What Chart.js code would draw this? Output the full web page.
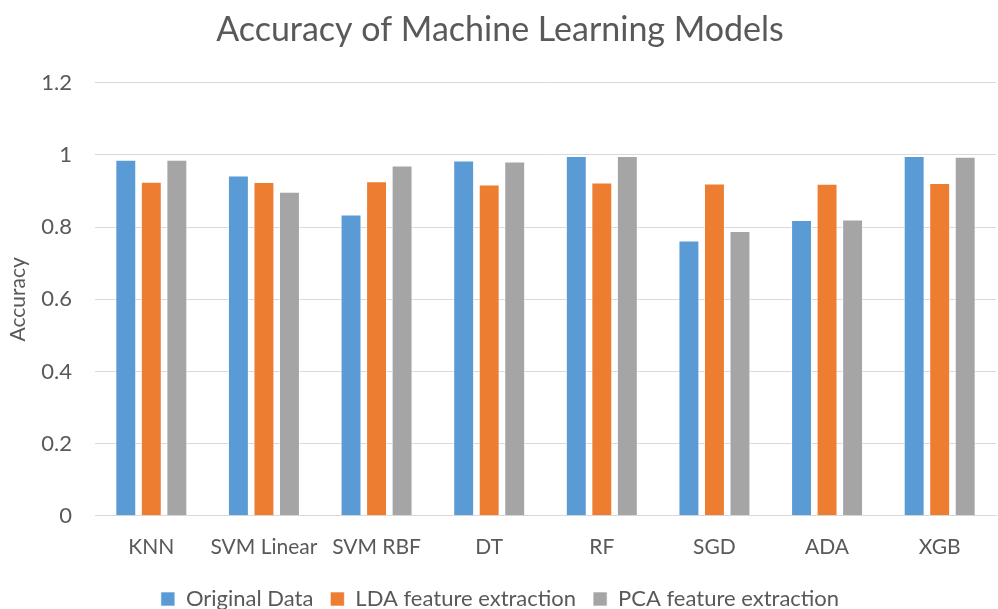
<!DOCTYPE html>
<html>
<head>
<meta charset="utf-8">
<script src="https://cdn.jsdelivr.net/npm/chart.js@4/dist/chart.umd.min.js"></script>
<style>
  html, body { margin: 0; padding: 0; background: #fff; }
  #wrap { width: 998px; height: 609px; }
</style>
</head>
<body>
<div id="wrap"><canvas id="chartCanvas" width="998" height="609"></canvas></div>
<script>
const models = ["KNN", "SVM Linear", "SVM RBF", "DT", "RF", "SGD", "ADA", "XGB"];
const originalData = [0.987, 0.943, 0.835, 0.985, 0.997, 0.763, 0.820, 0.997];
const ldaData = [0.926, 0.925, 0.927, 0.918, 0.924, 0.921, 0.920, 0.922];
const pcaData = [0.987, 0.898, 0.971, 0.982, 0.997, 0.789, 0.821, 0.995];

const textColor = '#595959';
const fontFamily = 'Lato, "Open Sans", sans-serif';

function barSet(label, values, color){
    return {
        label: label,
        data: values,
        backgroundColor: color,
        borderColor: 'rgba(255,255,255,0.6)',
        borderWidth: 1,
        categoryPercentage: 0.68,
        barPercentage: 0.82
    };
}

const config = {
    type: 'bar',
    data: {
        labels: models,
        datasets: [
            barSet("Original Data", originalData, '#5b9bd5'),
            barSet("LDA feature extraction", ldaData, '#ed7d31'),
            barSet("PCA feature extraction", pcaData, '#a5a5a5')
        ]
    },
    options: {
        responsive: false,
        animation: false,
        layout: { padding: { left: 4, right: 2, top: 4, bottom: -11 } },
        plugins: {
            title: {
                display: true,
                text: 'Accuracy of Machine Learning Models',
                color: textColor,
                font: { family: fontFamily, size: 34, weight: 'normal' },
                padding: { top: 6, bottom: 32 }
            },
            legend: {
                position: 'bottom',
                labels: {
                    color: textColor,
                    font: { family: fontFamily, size: 22, lineHeight: 1.0 },
                    boxWidth: 14,
                    boxHeight: 14,
                    padding: 17
                }
            },
            tooltip: { enabled: false }
        },
        scales: {
            x: {
                grid: { display: false },
                border: { color: '#d9d9d9', width: 1 },
                ticks: {
                    color: textColor,
                    font: { family: fontFamily, size: 21 },
                    padding: 11,
                    maxRotation: 0,
                    minRotation: 0,
                    autoSkip: false
                }
            },
            y: {
                min: 0,
                max: 1.2,
                afterFit: function(scale){ scale.width = 91; },
                ticks: {
                    stepSize: 0.2,
                    color: textColor,
                    font: { family: fontFamily, size: 22 },
                    padding: 23,
                    callback: function(v){ return String(Math.round(v * 10) / 10); }
                },
                grid: { color: '#d9d9d9', lineWidth: 1, drawTicks: false },
                border: { display: false },
                title: {
                    display: true,
                    text: 'Accuracy',
                    color: textColor,
                    font: { family: fontFamily, size: 21 },
                    padding: { top: 2, bottom: 4 }
                }
            }
        }
    }
};

let myChart = new Chart(document.getElementById('chartCanvas'), config);
</script>
</body>
</html>
